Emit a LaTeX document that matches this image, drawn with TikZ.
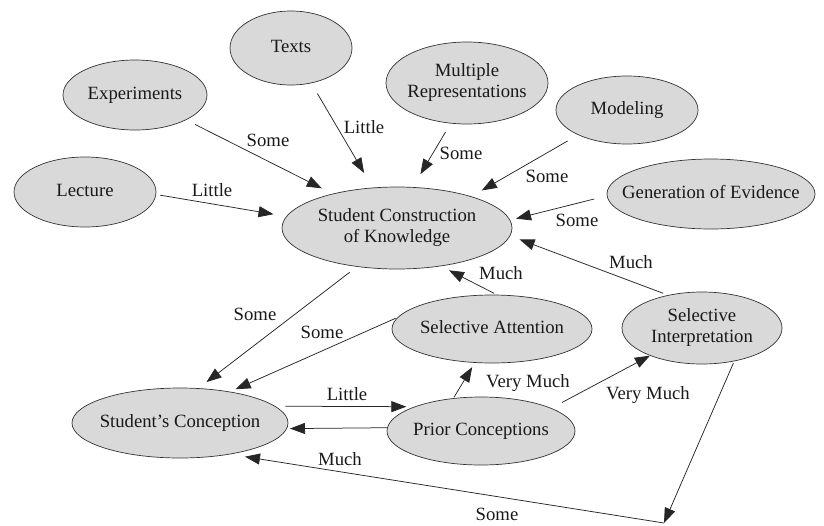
\documentclass[tikz,border=0pt]{standalone}
\usepackage{fontspec}
\setmainfont{Liberation Serif}
\usetikzlibrary{shapes.geometric, arrows.meta}

\newcommand{\nodefont}{\fontsize{18.7}{21}\selectfont}
\newcommand{\ctext}[1]{\makebox[0pt]{\begin{tabular}{@{}c@{}}#1\end{tabular}}}

\begin{document}
\begin{tikzpicture}[x=1pt, y=-1pt,
    concept/.style={ellipse, draw=black!80, fill=black!15, line width=0.7pt,
                    inner sep=0pt, text=black!90, font=\nodefont},
    arr/.style={-{Triangle[length=15pt, width=11pt]}, line width=0.75pt, black!85},
    lbl/.style={inner sep=0pt, text=black!90, font=\nodefont}]

\useasboundingbox (0,0) rectangle (824,525);

%% ---- Sorgenti in alto ----
\node[concept, minimum width=122, minimum height=74] (texts) at (291,48)  {\ctext{Texts}};
\node[concept, minimum width=144, minimum height=70] (exp)   at (135,95)  {\ctext{Experiments}};
\node[concept, minimum width=142, minimum height=70] (lect)  at (85,192)  {\ctext{Lecture}};
\node[concept, minimum width=162, minimum height=82] (mr)    at (467,83)  {\ctext{Multiple\\Representations}};
\node[concept, minimum width=142, minimum height=68] (model) at (627,110) {\ctext{Modeling}};
\node[concept, minimum width=208, minimum height=70] (goe)   at (711,194) {\ctext{Generation of Evidence}};

%% ---- Nodo centrale ----
\node[concept, minimum width=230, minimum height=82] (sck) at (397,228) {\ctext{Student Construction\\of Knowledge}};

%% ---- Nodi in basso ----
\node[concept, minimum width=200, minimum height=68] (selatt) at (492,329) {\ctext{Selective Attention}};
\node[concept, minimum width=160, minimum height=72] (selint) at (702,328) {\ctext{Selective\\Interpretation}};
\node[concept, minimum width=188, minimum height=68] (prior)  at (481,431) {\ctext{Prior Conceptions}};
\node[concept, minimum width=216, minimum height=70] (stc)    at (180,423) {\ctext{Student's Conception}};
\coordinate (corner) at (664,523);

%% ---- Frecce verso la costruzione ----
\draw[arr, shorten <=10pt, shorten >=12pt] (exp.-26) -- (sck.152);
\draw[arr, shorten <=12pt, shorten >=17pt] (texts.-60) -- (sck.121);
\draw[arr, shorten <=4pt, shorten >=13pt] (lect.-2) -- (sck.174);
\draw[arr, shorten <=10pt, shorten >=15pt] (mr.248) -- (sck.69);
\draw[arr, shorten <=12pt, shorten >=12pt] (model.207) -- (sck.23);
\draw[arr, shorten <=13pt, shorten >=6pt] (goe.181) -- (sck.4);
\draw[arr, shorten <=5pt, shorten >=10pt] (selint.136) -- (sck.-4);
\draw[arr, shorten <=3pt, shorten >=9pt] (selatt.82) -- (sck.-41);

%% ---- Frecce verso la concezione ----
\draw[arr, shorten <=9pt, shorten >=10pt] (sck.224) -- (stc.62);
\draw[arr, shorten <=2pt, shorten >=6pt] (selatt.173) -- (stc.32);
\draw[arr, shorten <=10pt, shorten >=8pt] (stc.10) -- (prior.160);
\draw[arr, shorten >=3pt] (prior.178) -- (stc.-3);
\draw[arr, shorten <=1pt, shorten >=5pt] (prior.130) -- (selatt.243);
\draw[arr, shorten <=12pt] (prior.18) -- (selint.208);
\draw[arr, shorten <=2pt] (selint.-46) -- (corner);
\draw[arr, shorten >=15pt] (corner) -- (stc.-32);

%% ---- Etichette ----
\node[lbl] (wexp)    at (268,140) {Some};
\node[lbl] (wtexts)  at (364,127) {Little};
\node[lbl] (wlect)   at (212,190) {Little};
\node[lbl] (wmr)     at (461,153) {Some};
\node[lbl] (wmodel)  at (547,176) {Some};
\node[lbl] (wgoe)    at (577,220) {Some};
\node[lbl] (wselint) at (631,262) {Much};
\node[lbl] (wselatt) at (501,273) {Much};
\node[lbl] (wsck)    at (255,314) {Some};
\node[lbl] (wattstc) at (322,332) {Some};
\node[lbl] (wlittle) at (347,394) {Little};
\node[lbl] (wmuch)   at (340,459) {Much};
\node[lbl] (wvm1)    at (528,383) {Very Much};
\node[lbl] (wvm2)    at (648,395) {Very Much};
\node[lbl] (wbottom) at (497,514) {Some};

\end{tikzpicture}
\end{document}
